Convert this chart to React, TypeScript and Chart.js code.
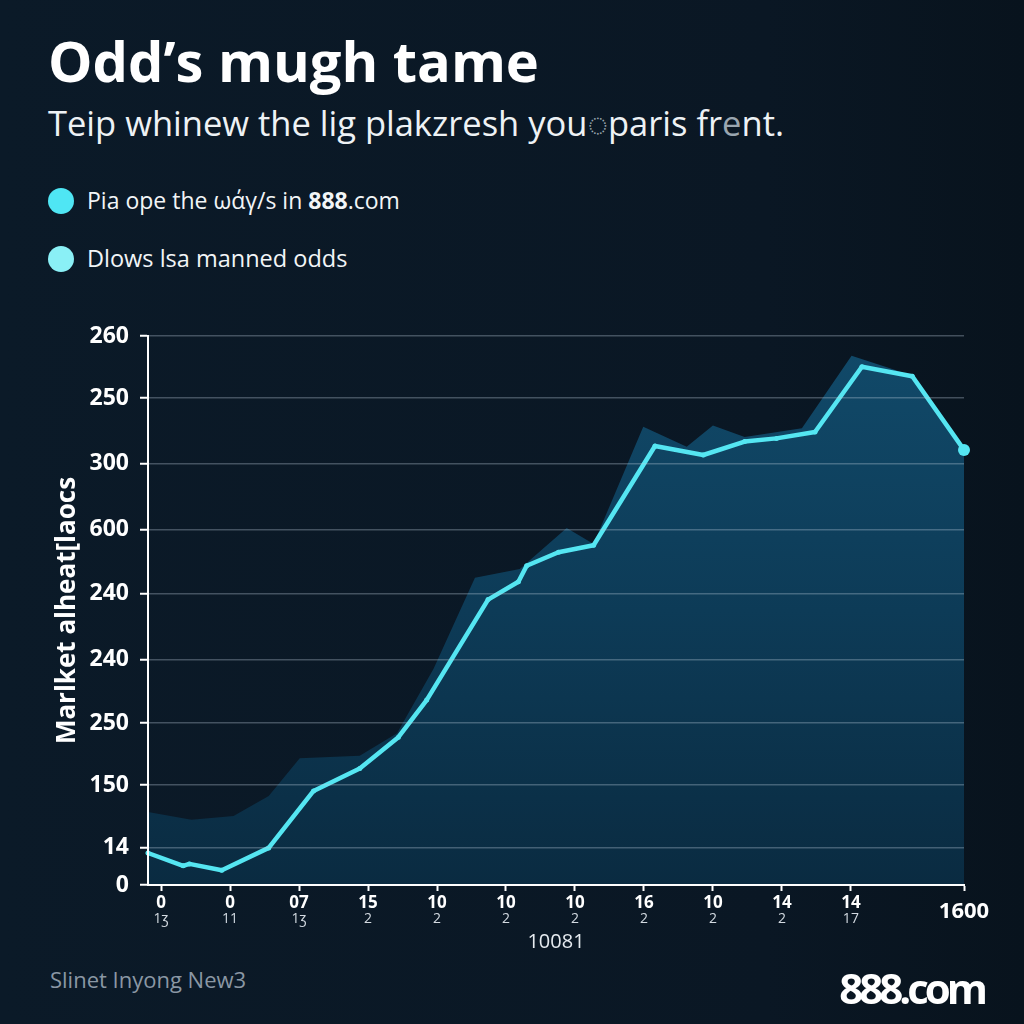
import React, { useEffect, useRef } from 'react';
import { Chart, registerables } from 'chart.js';

Chart.register(...registerables);

const FONT = '"Open Sans", "Noto Sans", sans-serif';
const CYAN = '#55e6f2';

// main line: x positions (in x-tick steps) and values (in y-grid steps)
const lineX = [-0.19, 0.32, 0.41, 0.88, 1.56, 2.21, 2.88, 3.44, 3.85, 4.74, 5.18, 5.3, 5.76, 6.27, 7.16, 7.86, 8.46, 8.92, 9.48, 10.16, 10.89, 11.64];
const lineValues = [0.5, 0.3, 0.33, 0.23, 0.58, 1.47, 1.82, 2.31, 2.89, 4.46, 4.74, 4.99, 5.2, 5.31, 6.86, 6.72, 6.93, 6.98, 7.08, 8.1, 7.95, 6.8];

// shaded band behind the line
const bandX = [-0.19, 0.44, 1.05, 1.56, 2.01, 2.88, 3.42, 3.95, 4.55, 5.2, 5.88, 6.27, 6.99, 7.62, 8.0, 8.46, 9.29, 10.01, 10.61, 10.89, 11.64];
const bandValues = [1.14, 1.02, 1.08, 1.39, 1.98, 2.02, 2.37, 3.38, 4.8, 4.94, 5.58, 5.33, 7.16, 6.85, 7.18, 7.0, 7.14, 8.27, 8.06, 7.95, 6.8];

const xTickPos = [0, 1, 2, 3, 4, 5, 6, 7, 8, 9, 10, 11.64];
const xTickTop = ['0', '0', '07', '15', '10', '10', '10', '16', '10', '14', '14', '1600'];
const xTickBottom = ['1ʒ', '11', '1ʒ', '2', '2', '2', '2', '2', '2', '2', '17', ''];

const yTickPos = [0, 0.58, 1.56, 2.53, 3.52, 4.55, 5.55, 6.59, 7.61, 8.58];
const yTickLabels = ['0', '14', '150', '250', '240', '240', '600', '300', '250', '260'];

const X_MIN = -0.19;
const X_MAX = 11.64;

export default function App() {
  const ref = useRef<HTMLCanvasElement>(null);

  useEffect(() => {
    document.body.style.margin = '0';
    document.body.style.background = '#0a1724';
    const canvas = ref.current;
    if (!canvas) return;

    const fillGrad = (c: any) => {
      const chart = c.chart;
      const area = chart.chartArea;
      if (!area) return '#0c3a54';
      const g = chart.ctx.createLinearGradient(0, area.top, 0, area.bottom);
      g.addColorStop(0, '#114a6a');
      g.addColorStop(0.5, '#0d3b57');
      g.addColorStop(1, '#0a2b41');
      return g;
    };

    const noClip = (s: any) => {
      s._computeLabelArea = () => undefined;
    };

    const chart = new Chart(canvas, {
      type: 'line',
      data: {
        datasets: [
          {
            label: 'line',
            order: 1,
            clip: 10,
            data: lineX.map((x, i) => ({ x, y: lineValues[i] })),
            fill: 'origin',
            backgroundColor: fillGrad,
            borderColor: CYAN,
            borderWidth: 4.5,
            borderJoinStyle: 'round',
            borderCapStyle: 'round',
            pointRadius: (c: any) => (c.dataIndex === lineX.length - 1 ? 6 : 2.5),
            pointBackgroundColor: CYAN,
            pointBorderWidth: 0,
            tension: 0,
          },
          {
            label: 'band',
            order: 2,
            data: bandX.map((x, i) => ({ x, y: bandValues[i] })),
            fill: 'origin',
            backgroundColor: fillGrad,
            borderColor: 'rgba(0,0,0,0)',
            borderWidth: 0,
            pointRadius: 0,
            tension: 0,
          },
        ],
      },
      options: {
        responsive: false,
        animation: false,
        devicePixelRatio: 1,
        events: [],
        layout: { padding: { top: 36, right: 60, bottom: 0, left: 0 } },
        plugins: { legend: { display: false }, tooltip: { enabled: false } },
        scales: {
          x: {
            type: 'linear',
            position: 'bottom',
            weight: 0,
            min: X_MIN,
            max: X_MAX,
            afterBuildTicks: (s: any) => {
              s.ticks = xTickPos.map((v) => ({ value: v }));
            },
            afterFit: (s: any) => {
              s.height = 26;
              noClip(s);
            },
            grid: {
              drawOnChartArea: false,
              drawTicks: true,
              tickLength: 6,
              tickColor: '#ffffff',
              tickWidth: 2,
              color: '#ffffff',
            },
            border: { display: true, color: '#ffffff', width: 2, z: 2 },
            ticks: {
              autoSkip: false,
              maxRotation: 0,
              padding: 3,
              color: '#ffffff',
              font: (c: any) =>
                c.index === xTickPos.length - 1
                  ? { family: FONT, size: 22, weight: 'bold', lineHeight: 1.64 }
                  : { family: FONT, size: 17, weight: 'bold', lineHeight: 1.05 },
              callback: (_v: any, i: number) => xTickTop[i],
            },
          },
          x2: {
            type: 'linear',
            position: 'bottom',
            weight: 1,
            min: X_MIN,
            max: X_MAX,
            afterBuildTicks: (s: any) => {
              s.ticks = xTickPos.map((v) => ({ value: v }));
            },
            afterFit: (s: any) => {
              s.height = 49;
              noClip(s);
            },
            grid: { display: false, drawTicks: false },
            border: { display: false },
            ticks: {
              autoSkip: false,
              maxRotation: 0,
              padding: 0,
              color: '#d3dae1',
              font: { family: FONT, size: 14, weight: 'normal', lineHeight: 1.1 },
              callback: (_v: any, i: number) => xTickBottom[i],
            },
            title: {
              display: true,
              text: '10081',
              color: '#e6ebf0',
              font: { family: FONT, size: 20, weight: 'normal', lineHeight: 1.2 },
              padding: { top: 0, bottom: 6 },
            },
          },
          y: {
            type: 'linear',
            min: 0,
            max: 8.58,
            afterBuildTicks: (s: any) => {
              s.ticks = yTickPos.map((v) => ({ value: v }));
            },
            afterFit: (s: any) => {
              s.width = 148;
            },
            grid: {
              color: 'rgba(190,205,220,0.32)',
              lineWidth: 1.5,
              z: 1,
              drawTicks: true,
              tickLength: 8,
              tickColor: '#ffffff',
              tickWidth: 2,
            },
            border: { display: true, color: '#ffffff', width: 2, z: 2 },
            ticks: {
              autoSkip: false,
              padding: 11,
              color: '#ffffff',
              font: { family: FONT, size: 23, weight: 'bold' },
              callback: (_v: any, i: number) => yTickLabels[i],
            },
            title: {
              display: true,
              text: 'Marlket alheat[laocs',
              color: '#ffffff',
              font: { family: FONT, size: 26, weight: 'bold', lineHeight: 1.2 },
              padding: { top: 52, bottom: 0 },
            },
          },
        },
      },
    } as any);

    return () => chart.destroy();
  }, []);

  const dot = (top: number, color: string): React.CSSProperties => ({
    position: 'absolute',
    left: 48,
    top: top - 13,
    width: 26,
    height: 26,
    borderRadius: '50%',
    background: color,
  });

  return (
    <div
      style={{
        position: 'relative',
        width: 1024,
        height: 1024,
        overflow: 'hidden',
        background: 'linear-gradient(90deg, #0b1a28 0%, #0a1724 75%, #08131d 100%)',
        fontFamily: FONT,
        color: '#ffffff',
      }}
    >
      <div
        style={{
          position: 'absolute',
          left: 48,
          top: 32,
          fontSize: 56,
          lineHeight: '56px',
          fontWeight: 700,
          whiteSpace: 'nowrap',
        }}
      >
        Odd’s mugh tame
      </div>
      <div
        style={{
          position: 'absolute',
          left: 48,
          top: 106,
          fontSize: 34.5,
          lineHeight: '34.5px',
          fontWeight: 400,
          color: '#eef2f5',
          whiteSpace: 'nowrap',
        }}
      >
        Teip whinew the lig plakzresh you<span style={{ color: '#9aa6b0' }}>◌</span>paris fr<span style={{ color: '#9aa6b0' }}>e</span>nt.
      </div>

      <div style={dot(201, '#4fe6f4')} />
      <div
        style={{
          position: 'absolute',
          left: 87,
          top: 189,
          fontSize: 23,
          lineHeight: '23px',
          whiteSpace: 'nowrap',
          color: '#f2f5f7',
        }}
      >
        Pia ope the ωάγ/s in <b>888</b>.com
      </div>
      <div style={dot(259, '#8af0f6')} />
      <div
        style={{
          position: 'absolute',
          left: 87,
          top: 247,
          fontSize: 23.5,
          lineHeight: '23.5px',
          whiteSpace: 'nowrap',
          color: '#f2f5f7',
        }}
      >
        Dlows lsa manned odds
      </div>

      <canvas
        ref={ref}
        width={1024}
        height={660}
        style={{ position: 'absolute', left: 0, top: 300, width: 1024, height: 660 }}
      />

      <div
        style={{
          position: 'absolute',
          left: 50,
          top: 968,
          fontSize: 22,
          lineHeight: '22px',
          color: '#8a97a4',
          whiteSpace: 'nowrap',
        }}
      >
        Slinet Inyong New3
      </div>
      <div
        style={{
          position: 'absolute',
          right: 40,
          top: 967,
          fontSize: 42,
          lineHeight: '42px',
          fontWeight: 700,
          letterSpacing: -4,
          whiteSpace: 'nowrap',
        }}
      >
        888.com
      </div>
    </div>
  );
}
